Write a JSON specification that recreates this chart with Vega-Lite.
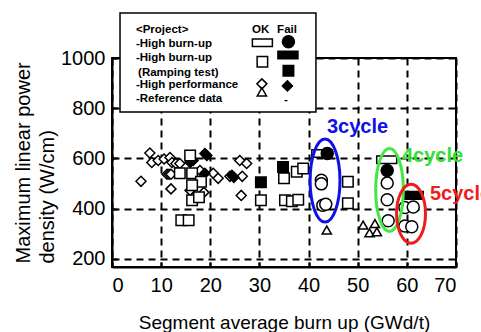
{
  "$schema": "https://vega.github.io/schema/vega-lite/v6.json",
  "width": 344,
  "height": 209,
  "autosize": {"type": "none"},
  "padding": {"left": 112, "top": 58, "right": 25, "bottom": 65},
  "background": "white",
  "config": {
    "view": {"stroke": "black", "strokeWidth": 2},
    "axis": {
      "grid": true, "gridColor": "black", "gridDash": [7, 5], "gridWidth": 2, "gridOpacity": 1,
      "domainColor": "black", "domainWidth": 2,
      "tickColor": "black", "tickWidth": 2, "tickSize": -5,
      "labelFont": "Liberation Sans", "labelFontSize": 20, "labelColor": "black",
      "titleFont": "Liberation Sans", "titleFontWeight": "normal", "titleColor": "black"
    }
  },
  "datasets": {
    "pts": [
      {"x": 7.7, "y": 622, "project": "Reference", "result": "OK", "group": "plot"},
      {"x": 8.1, "y": 584, "project": "Reference", "result": "OK", "group": "plot"},
      {"x": 9.4, "y": 592, "project": "Reference", "result": "OK", "group": "plot"},
      {"x": 10.6, "y": 598, "project": "Reference", "result": "OK", "group": "plot"},
      {"x": 11.8, "y": 604, "project": "Reference", "result": "OK", "group": "plot"},
      {"x": 12.2, "y": 584, "project": "Reference", "result": "OK", "group": "plot"},
      {"x": 5.9, "y": 509, "project": "Reference", "result": "OK", "group": "plot"},
      {"x": 11.2, "y": 537, "project": "Reference", "result": "OK", "group": "plot"},
      {"x": 11.6, "y": 537, "project": "Reference", "result": "OK", "group": "plot"},
      {"x": 12.0, "y": 537, "project": "Reference", "result": "OK", "group": "plot"},
      {"x": 12.0, "y": 479, "project": "Reference", "result": "OK", "group": "plot"},
      {"x": 13.0, "y": 580, "project": "Reference", "result": "OK", "group": "plot"},
      {"x": 13.8, "y": 580, "project": "Reference", "result": "OK", "group": "plot"},
      {"x": 15.9, "y": 473, "project": "Reference", "result": "OK", "group": "plot"},
      {"x": 17.9, "y": 552, "project": "Reference", "result": "OK", "group": "plot"},
      {"x": 18.7, "y": 465, "project": "Reference", "result": "OK", "group": "plot"},
      {"x": 20.6, "y": 541, "project": "Reference", "result": "OK", "group": "plot"},
      {"x": 21.6, "y": 521, "project": "Reference", "result": "OK", "group": "plot"},
      {"x": 24.0, "y": 529, "project": "Reference", "result": "OK", "group": "plot"},
      {"x": 26.0, "y": 592, "project": "Reference", "result": "OK", "group": "plot"},
      {"x": 27.4, "y": 580, "project": "Reference", "result": "OK", "group": "plot"},
      {"x": 26.5, "y": 529, "project": "Reference", "result": "OK", "group": "plot"},
      {"x": 26.3, "y": 453, "project": "Reference", "result": "OK", "group": "plot"},
      {"x": 18.9, "y": 620, "project": "High performance", "result": "Fail", "group": "plot"},
      {"x": 19.3, "y": 612, "project": "High performance", "result": "Fail", "group": "plot"},
      {"x": 18.9, "y": 541, "project": "High performance", "result": "Fail", "group": "plot"},
      {"x": 15.9, "y": 584, "project": "High performance", "result": "Fail", "group": "plot"},
      {"x": 16.5, "y": 592, "project": "High performance", "result": "Fail", "group": "plot"},
      {"x": 24.4, "y": 533, "project": "High performance", "result": "Fail", "group": "plot"},
      {"x": 24.8, "y": 525, "project": "High performance", "result": "Fail", "group": "plot"},
      {"x": 43.7, "y": 315, "project": "High performance", "result": "OK", "group": "plot"},
      {"x": 51.1, "y": 335, "project": "High performance", "result": "OK", "group": "plot"},
      {"x": 52.4, "y": 304, "project": "High performance", "result": "OK", "group": "plot"},
      {"x": 53.5, "y": 341, "project": "High performance", "result": "OK", "group": "plot"},
      {"x": 53.9, "y": 308, "project": "High performance", "result": "OK", "group": "plot"},
      {"x": 15.9, "y": 612, "project": "Ramping test", "result": "OK", "group": "plot"},
      {"x": 13.8, "y": 541, "project": "Ramping test", "result": "OK", "group": "plot"},
      {"x": 16.3, "y": 541, "project": "Ramping test", "result": "OK", "group": "plot"},
      {"x": 18.1, "y": 507, "project": "Ramping test", "result": "OK", "group": "plot"},
      {"x": 16.3, "y": 493, "project": "Ramping test", "result": "OK", "group": "plot"},
      {"x": 16.3, "y": 434, "project": "Ramping test", "result": "OK", "group": "plot"},
      {"x": 17.7, "y": 446, "project": "Ramping test", "result": "OK", "group": "plot"},
      {"x": 14.1, "y": 354, "project": "Ramping test", "result": "OK", "group": "plot"},
      {"x": 15.6, "y": 354, "project": "Ramping test", "result": "OK", "group": "plot"},
      {"x": 30.3, "y": 434, "project": "Ramping test", "result": "OK", "group": "plot"},
      {"x": 35.0, "y": 521, "project": "Ramping test", "result": "OK", "group": "plot"},
      {"x": 37.6, "y": 547, "project": "Ramping test", "result": "OK", "group": "plot"},
      {"x": 38.9, "y": 560, "project": "Ramping test", "result": "OK", "group": "plot"},
      {"x": 35.2, "y": 434, "project": "Ramping test", "result": "OK", "group": "plot"},
      {"x": 36.6, "y": 430, "project": "Ramping test", "result": "OK", "group": "plot"},
      {"x": 37.9, "y": 436, "project": "Ramping test", "result": "OK", "group": "plot"},
      {"x": 48.0, "y": 507, "project": "Ramping test", "result": "OK", "group": "plot"},
      {"x": 48.0, "y": 422, "project": "Ramping test", "result": "OK", "group": "plot"},
      {"x": 30.3, "y": 505, "project": "Ramping test", "result": "Fail", "group": "plot"},
      {"x": 34.8, "y": 566, "project": "Ramping test", "result": "Fail", "group": "plot"},
      {"x": 42.7, "y": 620, "project": "High burn-up rod", "result": "OK", "group": "plot"},
      {"x": 55.9, "y": 595, "project": "High burn-up rod", "result": "OK", "group": "plot"},
      {"x": 61.3, "y": 453, "project": "High burn-up rod", "result": "Fail", "group": "plot"},
      {"x": 42.6, "y": 513, "project": "High burn-up", "result": "OK", "group": "plot"},
      {"x": 42.6, "y": 499, "project": "High burn-up", "result": "OK", "group": "plot"},
      {"x": 42.9, "y": 414, "project": "High burn-up", "result": "OK", "group": "plot"},
      {"x": 43.5, "y": 418, "project": "High burn-up", "result": "OK", "group": "plot"},
      {"x": 56.0, "y": 502, "project": "High burn-up", "result": "OK", "group": "plot"},
      {"x": 56.0, "y": 436, "project": "High burn-up", "result": "OK", "group": "plot"},
      {"x": 56.2, "y": 352, "project": "High burn-up", "result": "OK", "group": "plot"},
      {"x": 59.6, "y": 405, "project": "High burn-up", "result": "OK", "group": "plot"},
      {"x": 61.3, "y": 407, "project": "High burn-up", "result": "OK", "group": "plot"},
      {"x": 59.6, "y": 331, "project": "High burn-up", "result": "OK", "group": "plot"},
      {"x": 61.0, "y": 328, "project": "High burn-up", "result": "OK", "group": "plot"},
      {"x": 43.8, "y": 620, "project": "High burn-up", "result": "Fail", "group": "plot"},
      {"x": 56.0, "y": 552, "project": "High burn-up", "result": "Fail", "group": "plot"},
      {"x": 30.6, "y": 1061, "project": "High burn-up rod", "result": "OK", "group": "legend"},
      {"x": 35.9, "y": 1065, "project": "High burn-up", "result": "Fail", "group": "legend"},
      {"x": 35.8, "y": 1012, "project": "High burn-up rod", "result": "Fail", "group": "legend"},
      {"x": 30.6, "y": 985, "project": "Ramping test", "result": "OK", "group": "legend"},
      {"x": 35.9, "y": 949, "project": "Ramping test", "result": "Fail", "group": "legend"},
      {"x": 30.5, "y": 897, "project": "Reference", "result": "OK", "group": "legend"},
      {"x": 30.5, "y": 865, "project": "High performance", "result": "OK", "group": "legend"},
      {"x": 35.7, "y": 889, "project": "High performance", "result": "Fail", "group": "legend"}
    ],
    "ellipses": [
      {"x": 43.35, "y": 512, "cycle": "3cycle"},
      {"x": 56.47, "y": 475, "cycle": "4cycle"},
      {"x": 60.85, "y": 380, "cycle": "5cycle"}
    ],
    "notes": [
      {"x": 43.75, "y": 701, "label": "3cycle"},
      {"x": 59.0, "y": 586, "label": "4cycle"},
      {"x": 64.7, "y": 435, "label": "5cycle"}
    ],
    "legendbox": [{"x": 1.63, "x2": 41.5, "y": 1179, "y2": 785}],
    "legendtext": [
      {"x": 4.88, "y": 1100, "label": "<Project>"},
      {"x": 4.88, "y": 1044, "label": "-High burn-up"},
      {"x": 4.88, "y": 988, "label": "-High burn-up"},
      {"x": 5.3, "y": 930, "label": "(Ramping test)"},
      {"x": 4.88, "y": 881, "label": "-High performance"},
      {"x": 4.88, "y": 825, "label": "-Reference data"},
      {"x": 28.5, "y": 1100, "label": "OK"},
      {"x": 33.6, "y": 1100, "label": "Fail"},
      {"x": 35.0, "y": 821, "label": "-"}
    ]
  },
  "layer": [
    {
      "data": {"name": "legendbox"},
      "mark": {"type": "rect", "fill": "white", "stroke": "black", "strokeWidth": 1.5},
      "encoding": {
        "x": {"field": "x", "type": "quantitative", "scale": {"domain": [0, 70], "nice": false, "zero": false},
              "axis": {"values": [0, 10, 20, 30, 40, 50, 60, 70], "labelPadding": 13, "title": "Segment average burn up (GWd/t)", "titleFontSize": 19, "titleY": 61, "titleBaseline": "alphabetic"}},
        "x2": {"field": "x2"},
        "y": {"field": "y", "type": "quantitative", "scale": {"domain": [168, 1000], "nice": false, "zero": false},
              "axis": {"values": [200, 400, 600, 800, 1000], "format": "d", "labelPadding": 12, "title": ["Maximum linear power", "density (W/cm)"], "titleFontSize": 20, "titleAngle": 270, "titleAlign": "left", "titleBaseline": "top", "titleX": -99, "titleY": 205, "titleLineHeight": 24}},
        "y2": {"field": "y2"}
      }
    },
    {
      "data": {"name": "pts"},
      "transform": [{"filter": "datum.project == 'High burn-up rod'"}],
      "mark": {"type": "point", "shape": "M-1,-0.38L1,-0.38L1,0.38L-1,0.38Z", "size": 400, "filled": true, "stroke": "black", "strokeWidth": 1.5, "opacity": 1},
      "encoding": {
        "x": {"field": "x", "type": "quantitative"},
        "y": {"field": "y", "type": "quantitative"},
        "fill": {"field": "result", "type": "nominal", "scale": {"domain": ["OK", "Fail"], "range": ["white", "black"]}, "legend": null}
      }
    },
    {
      "data": {"name": "pts"},
      "transform": [{"filter": "datum.project == 'Reference' || (datum.project == 'High performance' && datum.result == 'Fail')"}],
      "mark": {"type": "point", "shape": "diamond", "size": 100, "filled": true, "stroke": "black", "strokeWidth": 1.5, "opacity": 1},
      "encoding": {
        "x": {"field": "x", "type": "quantitative"},
        "y": {"field": "y", "type": "quantitative"},
        "fill": {"field": "result", "type": "nominal", "scale": {"domain": ["OK", "Fail"], "range": ["white", "black"]}, "legend": null}
      }
    },
    {
      "data": {"name": "pts"},
      "transform": [{"filter": "datum.project == 'High performance' && datum.result == 'OK'"}],
      "mark": {"type": "point", "shape": "triangle-up", "size": 85, "filled": true, "fill": "white", "stroke": "black", "strokeWidth": 1.5, "opacity": 1},
      "encoding": {
        "x": {"field": "x", "type": "quantitative"},
        "y": {"field": "y", "type": "quantitative"}
      }
    },
    {
      "data": {"name": "pts"},
      "transform": [{"filter": "datum.project == 'Ramping test'"}],
      "mark": {"type": "point", "shape": "square", "size": 110, "filled": true, "stroke": "black", "strokeWidth": 1.5, "opacity": 1},
      "encoding": {
        "x": {"field": "x", "type": "quantitative"},
        "y": {"field": "y", "type": "quantitative"},
        "fill": {"field": "result", "type": "nominal", "scale": {"domain": ["OK", "Fail"], "range": ["white", "black"]}, "legend": null}
      }
    },
    {
      "data": {"name": "pts"},
      "transform": [{"filter": "datum.project == 'High burn-up'"}],
      "mark": {"type": "point", "shape": "circle", "size": 144, "filled": true, "stroke": "black", "strokeWidth": 1.5, "opacity": 1},
      "encoding": {
        "x": {"field": "x", "type": "quantitative"},
        "y": {"field": "y", "type": "quantitative"},
        "fill": {"field": "result", "type": "nominal", "scale": {"domain": ["OK", "Fail"], "range": ["white", "black"]}, "legend": null}
      }
    },
    {
      "data": {"name": "ellipses"},
      "transform": [{"filter": "datum.cycle == '3cycle'"}],
      "mark": {"type": "point", "shape": "M0,-1A0.36,1,0,1,1,0,1A0.36,1,0,1,1,0,-1Z", "size": 6889, "filled": false, "stroke": "#1010e8", "strokeWidth": 3, "opacity": 1},
      "encoding": {"x": {"field": "x", "type": "quantitative"}, "y": {"field": "y", "type": "quantitative"}}
    },
    {
      "data": {"name": "ellipses"},
      "transform": [{"filter": "datum.cycle == '4cycle'"}],
      "mark": {"type": "point", "shape": "M0,-1A0.333,1,0,1,1,0,1A0.333,1,0,1,1,0,-1Z", "size": 6889, "filled": false, "stroke": "#44e844", "strokeWidth": 3, "opacity": 1},
      "encoding": {"x": {"field": "x", "type": "quantitative"}, "y": {"field": "y", "type": "quantitative"}}
    },
    {
      "data": {"name": "ellipses"},
      "transform": [{"filter": "datum.cycle == '5cycle'"}],
      "mark": {"type": "point", "shape": "M0,-1A0.49,1,0,1,1,0,1A0.49,1,0,1,1,0,-1Z", "size": 3481, "filled": false, "stroke": "#ee1c1c", "strokeWidth": 3, "opacity": 1},
      "encoding": {"x": {"field": "x", "type": "quantitative"}, "y": {"field": "y", "type": "quantitative"}}
    },
    {
      "data": {"name": "notes"},
      "mark": {"type": "text", "align": "left", "baseline": "alphabetic", "font": "Liberation Sans", "fontSize": 20, "fontWeight": "bold"},
      "encoding": {
        "x": {"field": "x", "type": "quantitative"},
        "y": {"field": "y", "type": "quantitative"},
        "text": {"field": "label"},
        "color": {"field": "label", "type": "nominal", "scale": {"domain": ["3cycle", "4cycle", "5cycle"], "range": ["#1010e8", "#33e033", "#ee1c1c"]}, "legend": null}
      }
    },
    {
      "data": {"name": "legendtext"},
      "mark": {"type": "text", "align": "left", "baseline": "alphabetic", "font": "Liberation Sans", "fontSize": 11.5, "fontWeight": "bold", "color": "black"},
      "encoding": {
        "x": {"field": "x", "type": "quantitative"},
        "y": {"field": "y", "type": "quantitative"},
        "text": {"field": "label"}
      }
    }
  ]
}
